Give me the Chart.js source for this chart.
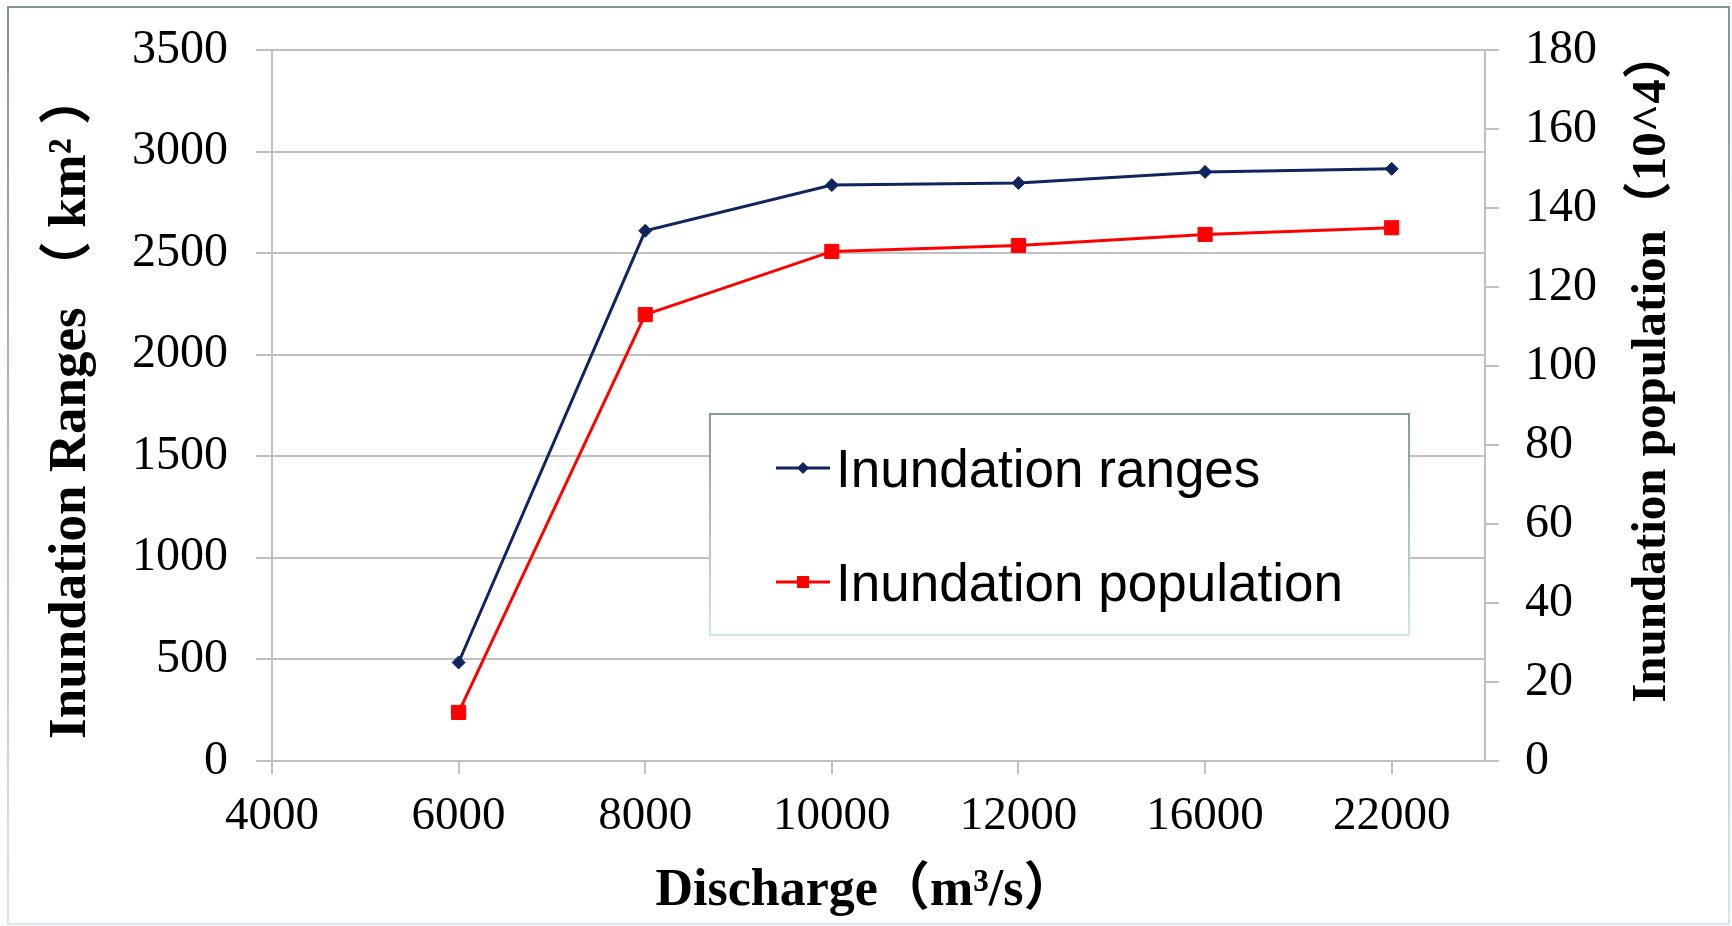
<!DOCTYPE html>
<html>
<head>
<meta charset="utf-8">
<script src="https://cdn.jsdelivr.net/npm/chart.js@4.4.1/dist/chart.umd.min.js"></script>
<style>
  html, body { margin: 0; padding: 0; background: #fff; }
  #wrap { position: relative; width: 1732px; height: 926px; }
  #frame {
    position: absolute; left: 7px; top: 6px; width: 1719px; height: 915px;
    border: 2px solid; border-image: linear-gradient(to bottom, #7d979c, #cfeaef) 1;
    pointer-events: none;
  }
  #legend {
    position: absolute; left: 709px; top: 413px; width: 697px; height: 219px;
    background: #fff; border: 2px solid;
    border-image: linear-gradient(to bottom, #7f9aa0, #cde8ed) 1;
    font-family: "Liberation Sans", Arial, sans-serif; font-size: 53px; color: #000;
  }
  .row { position: absolute; left: 65px; height: 60px; display: flex; align-items: center; white-space: nowrap; }
  .row svg { margin-right: 6px; }
</style>
</head>
<body>
<div id="wrap">
  <canvas id="c" width="1732" height="926"></canvas>
  <div id="legend"></div>
  <div id="frame"></div>
</div>
<script>
// x categories (discharge, m3/s) and the two series
const dischargeLabels = ['4000', '6000', '8000', '10000', '12000', '16000', '22000'];
const seriesDischarge = ['6000', '8000', '10000', '12000', '16000', '22000'];
const inundationRanges = [485, 2610, 2835, 2845, 2900, 2915];       // km2
const inundationPopulation = [12.3, 113, 129, 130.5, 133.3, 135];  // 10^4

const leftTicks = { min: 0, max: 3500, step: 500 };
const rightTicks = { min: 0, max: 180, step: 20 };

const xTitle = 'Discharge（m³/s）  ';
const leftTitle = 'Inundation Ranges （ km² ）';
const rightTitle = 'Inundation population（10^4）';

const NAVY = '#10255f';
const RED = '#ff0000';
const GRID = '#c0c0c0';
const SERIF = '"Liberation Serif", "Times New Roman", "Noto Sans CJK SC", serif';

const toPoints = (vals) => vals.map((v, i) => ({ x: dischargeLabels.indexOf(seriesDischarge[i]), y: v }));

const rightTitlePlugin = {
  id: 'rightTitle',
  afterDraw(chart) {
    const { ctx, chartArea } = chart;
    ctx.save();
    ctx.translate(chartArea.right + 167, (chartArea.top + chartArea.bottom) / 2 - 39);
    ctx.rotate(-Math.PI / 2);
    ctx.font = 'bold 49px ' + SERIF;
    ctx.fillStyle = '#000';
    ctx.textAlign = 'center';
    ctx.textBaseline = 'middle';
    ctx.fillText(rightTitle, 0, 0);
    ctx.restore();
  }
};

// keep the plot box fixed, without the auto padding for the end labels
const fixVertical = (w) => (s) => { s.width = w; s.paddingTop = 0; s.paddingBottom = 0; };

new Chart(document.getElementById('c'), {
  type: 'line',
  data: {
    datasets: [
      {
        label: 'Inundation ranges',
        data: toPoints(inundationRanges),
        yAxisID: 'y',
        borderColor: NAVY, backgroundColor: NAVY, borderWidth: 3,
        pointStyle: 'rectRot', pointRadius: 6.5, pointBorderWidth: 1,
        tension: 0
      },
      {
        label: 'Inundation population',
        data: toPoints(inundationPopulation),
        yAxisID: 'y1',
        borderColor: RED, backgroundColor: RED, borderWidth: 3,
        pointStyle: 'rect', pointRadius: 10, pointBorderWidth: 1,
        tension: 0
      }
    ]
  },
  options: {
    responsive: false,
    animation: false,
    layout: { padding: { top: 50, left: 0, right: 0, bottom: 0 } },
    plugins: { legend: { display: false }, tooltip: { enabled: false } },
    scales: {
      x: {
        type: 'linear',
        min: 0,
        max: dischargeLabels.length - 0.5,
        afterBuildTicks: (s) => { s.ticks = dischargeLabels.map((_, i) => ({ value: i })); },
        afterFit: (s) => { s.height = 165; },
        grid: { drawOnChartArea: false, drawTicks: true, tickLength: 13, color: GRID, lineWidth: 2 },
        border: { color: GRID, width: 2 },
        ticks: {
          callback: (v) => dischargeLabels[v],
          autoSkip: false, maxRotation: 0, padding: 14,
          color: '#000', font: { family: SERIF, size: 47 }
        },
        title: {
          display: true, text: xTitle, color: '#000',
          padding: { top: 0, bottom: 3 },
          font: { family: SERIF, size: 52, weight: 'bold' }
        }
      },
      y: {
        position: 'left',
        min: leftTicks.min, max: leftTicks.max,
        afterFit: fixVertical(272),
        grid: { color: GRID, lineWidth: 2, tickLength: 16 },
        border: { color: GRID, width: 2 },
        ticks: {
          stepSize: leftTicks.step, padding: 28, color: '#000',
          callback: (v) => String(v),
          font: { family: SERIF, size: 48 }
        },
        title: {
          display: true, text: leftTitle, color: '#000',
          padding: { top: 40, bottom: 0 },
          font: { family: SERIF, size: 53, weight: 'bold' }
        }
      },
      y1: {
        position: 'right',
        min: rightTicks.min, max: rightTicks.max,
        afterFit: fixVertical(247),
        grid: { drawOnChartArea: false, tickLength: 14, color: GRID, lineWidth: 2 },
        border: { color: GRID, width: 2 },
        ticks: {
          stepSize: rightTicks.step, padding: 26, color: '#000',
          callback: (v) => String(v),
          font: { family: SERIF, size: 48 }
        }
      }
    }
  },
  plugins: [rightTitlePlugin]
});

// legend box drawn as html over the plot
const legendItems = [
  { label: 'Inundation ranges', color: NAVY, marker: 'diamond' },
  { label: 'Inundation population', color: RED, marker: 'square' }
];
const legendTops = [23, 137];
const legend = document.getElementById('legend');
legendItems.forEach((it, i) => {
  const mk = it.marker === 'diamond'
    ? `<polygon points="27,4 33,10 27,16 21,10" fill="${it.color}"/>`
    : `<rect x="21" y="4" width="12" height="12" fill="${it.color}"/>`;
  legend.insertAdjacentHTML('beforeend', `
    <div class="row" style="top:${legendTops[i]}px">
      <svg width="54" height="20"><line x1="0" y1="10" x2="54" y2="10" stroke="${it.color}" stroke-width="3"/>${mk}</svg>
      <span>${it.label}</span>
    </div>`);
});
</script>
</body>
</html>
